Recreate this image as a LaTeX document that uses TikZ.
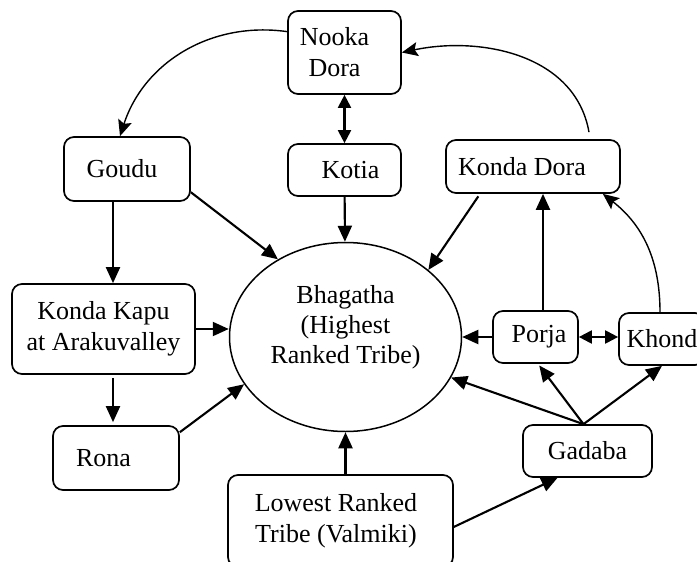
\documentclass[tikz,border=0pt]{standalone}
\usepackage{fontspec}
\setmainfont{Liberation Serif}
\usetikzlibrary{arrows.meta, shapes.geometric, calc}

\begin{document}
\begin{tikzpicture}[x=1pt, y=-1pt,
    tribe/.style={draw, line width=1.7pt, rounded corners=10pt, align=center, inner sep=0pt, font=\fontsize{26}{31}\selectfont},
    link/.style={line width=2.1pt, -{Triangle[length=16pt,width=14pt]}},
    twoway/.style={line width=2.1pt, {Triangle[length=13pt,width=13pt]}-{Triangle[length=13pt,width=13pt]}},
    curve/.style={line width=1.4pt, -{Stealth[length=16pt,width=14pt,inset=3pt]}}]
    \useasboundingbox (0,0) rectangle (697,562);
    \clip (0,0) rectangle (697,562);

    \node[draw, ellipse, line width=1.5pt, minimum width=232pt, minimum height=189pt, inner sep=0pt, align=center, font=\fontsize{26}{30}\selectfont] (bhag) at (345.5,337) {Bhagatha\\(Highest\\Ranked Tribe)\\[-5pt]\mbox{}};
    \node[tribe, minimum width=113pt, minimum height=83pt] (nooka) at (344.5,52.5) {Nooka\hspace*{20pt}\\Dora\hspace*{20pt}};
    \node[tribe, minimum width=113pt, minimum height=52pt] (kotia) at (344.5,170) {\hspace*{12pt}Kotia};
    \node[tribe, minimum width=126pt, minimum height=64pt] (goudu) at (127,169) {Goudu\hspace*{10pt}};
    \node[tribe, minimum width=174pt, minimum height=53pt] (kdora) at (533,166.5) {Konda Dora\hspace*{22pt}};
    \node[tribe, minimum width=183pt, minimum height=90pt] (kkapu) at (103.5,329) {Konda Kapu\\at Arakuvalley};
    \node[tribe, minimum width=126pt, minimum height=64pt] (rona) at (116,458) {Rona\hspace*{25pt}};
    \node[tribe, minimum width=225pt, minimum height=92pt] (low) at (340.5,521) {Lowest Ranked\hspace*{9pt}\\Tribe (Valmiki)\hspace*{9pt}};
    \node[tribe, minimum width=85pt, minimum height=52pt] (porja) at (535.5,337) {\hspace*{7pt}Porja};
    \node[tribe, minimum width=86pt, minimum height=52pt] (khond) at (662,339) {Khond};
    \node[tribe, minimum width=129pt, minimum height=52pt] (gadaba) at (587.5,451) {Gadaba};

    \draw[curve] (nooka.160) to[out=172, in=72] ([xshift=-7pt]goudu.north);
    \draw[curve] ([xshift=56pt, yshift=7pt]kdora.north) to[out=100, in=12] (nooka.east);
    \draw[curve] ([xshift=-2pt]khond.north) to[out=90, in=-38] ([xshift=-18pt]kdora.south east);

    \draw[twoway] (nooka) -- (kotia);
    \draw[link] (kotia) -- (bhag);
    \draw[link] (goudu.-20) -- (bhag.131);
    \draw[link] ([xshift=-14pt]goudu.south) -- ([xshift=-14pt]goudu.south |- kkapu.north);
    \draw[link] (kkapu.east) -- (kkapu.east -| bhag.west);
    \draw[link, shorten <=3pt, shorten >=3pt] ([xshift=9.5pt]kkapu.south) -- ([xshift=9.5pt]kkapu.south |- rona.north);
    \draw[link] (rona.22) -- (bhag.205);
    \draw[link] (bhag.south |- low.north) -- (bhag.south);
    \draw[link] (low.-3) -- ([xshift=-30pt]gadaba.south);
    \draw[link, shorten <=3pt] ([xshift=-53pt]kdora.south) -- (bhag.39);
    \draw[link] ([xshift=7.5pt]porja.north) -- ([xshift=7.5pt]porja.north |- kdora.south);
    \draw[link] (porja.west) -- (bhag.east);
    \draw[twoway] (porja.east) -- (porja.east -| khond.west);
    \draw[link] ([xshift=-4pt]gadaba.north) -- (bhag.-21);
    \draw[link, shorten >=2pt] ([xshift=-4pt]gadaba.north) -- ([xshift=2.5pt]porja.south);
    \draw[link] ([xshift=-4pt]gadaba.north) -- (khond.south);
\end{tikzpicture}
\end{document}
